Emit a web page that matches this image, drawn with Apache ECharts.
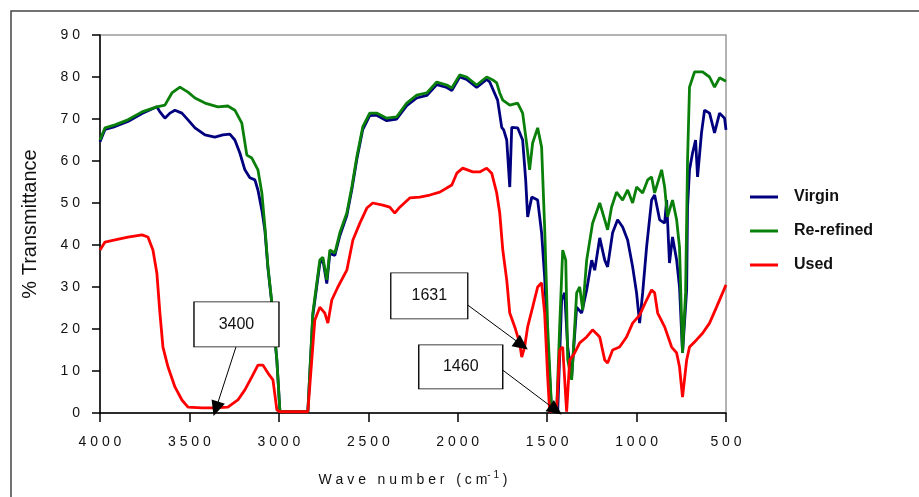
<!DOCTYPE html>
<html>
<head>
<meta charset="utf-8">
<title>FTIR spectra</title>
<script src="https://cdn.jsdelivr.net/npm/echarts@6/dist/echarts.min.js"></script>
<style>
  html, body { margin: 0; padding: 0; background: #fff; }
  #chart { width: 919px; height: 497px; }
</style>
</head>
<body>
<div id="chart"></div>
<script>
// series names, in legend order
var seriesNames = ['Virgin', 'Re-refined', 'Used'];

// [wave number (cm-1), % transmittance]
var virgin = [
    [4000, 64.6], [3972, 67.5], [3916, 68.2], [3844, 69.4], [3765, 71.3], [3682, 72.9],
    [3665, 71.7], [3637, 70.2], [3609, 71.4], [3581, 72.1], [3542, 71.4], [3508, 69.8],
    [3469, 67.9], [3413, 66.2], [3358, 65.7], [3313, 66.2], [3274, 66.4], [3246, 65],
    [3218, 61.9], [3190, 57.9], [3162, 56], [3134, 55.5], [3117, 53.1], [3095, 48.3],
    [3078, 43.5], [3061, 34.5], [3039, 26], [3011, 12.4], [2994, 0.3], [2838, 0.3],
    [2810, 23.2], [2771, 35.6], [2754, 36.5], [2732, 30.8], [2715, 38], [2687, 37.5],
    [2659, 42.2], [2620, 47], [2592, 53.2], [2564, 60.4], [2531, 67.5], [2492, 70.8],
    [2453, 70.9], [2397, 69.6], [2341, 70], [2285, 73.2], [2229, 75], [2173, 75.6],
    [2117, 78.2], [2061, 77.5], [2033, 76.8], [1989, 80], [1950, 79.4], [1894, 77.5],
    [1838, 79.4], [1821, 78.8], [1777, 74.5], [1754, 68], [1743, 67.4], [1726, 65],
    [1709, 53.8], [1698, 68], [1665, 67.9], [1637, 65], [1620, 55.5], [1609, 46.7],
    [1586, 51.4], [1553, 50.7], [1531, 42.9], [1514, 32.4], [1497, 16.7], [1475, 0.7],
    [1441, 0.3], [1419, 26.9], [1402, 28.6], [1385, 15.7], [1363, 8.6], [1335, 25.2],
    [1307, 23.8], [1279, 29.3], [1251, 36.4], [1234, 34], [1206, 41.7], [1178, 36.4],
    [1162, 34.8], [1134, 42.9], [1106, 46], [1078, 44.3], [1050, 41.2], [1022, 34.8],
    [1000, 28.6], [983, 21.4], [966, 28.6], [944, 39.5], [916, 50.7], [899, 51.9],
    [871, 46], [843, 45.2], [832, 50.7], [816, 35.7], [799, 41.9], [776, 36.4],
    [760, 30], [743, 14.3], [720, 29.3], [715, 49], [704, 57.9], [687, 61.9],
    [670, 65], [659, 56.2], [637, 66.7], [620, 72.1], [592, 71.4], [564, 66.7],
    [536, 71.4], [508, 70.2], [500, 67.4]
];

var rerefined = [
    [4000, 65], [3972, 67.9], [3916, 68.6], [3844, 69.8], [3765, 71.7], [3682, 72.9],
    [3637, 73.3], [3598, 76.2], [3553, 77.6], [3508, 76.4], [3469, 75], [3413, 73.8],
    [3341, 72.9], [3285, 73.1], [3246, 72.1], [3207, 69], [3179, 61.4], [3151, 60.7],
    [3117, 57.9], [3095, 52.4], [3078, 44.3], [3061, 34.8], [3039, 26.2], [3011, 12.6],
    [2994, 0.3], [2838, 0.3], [2810, 23.8], [2771, 36.4], [2754, 37.1], [2732, 31.7],
    [2715, 38.8], [2687, 38.1], [2659, 42.9], [2620, 47.6], [2592, 53.8], [2564, 61],
    [2531, 68.1], [2492, 71.4], [2453, 71.4], [2397, 70.2], [2341, 70.5], [2285, 73.8],
    [2229, 75.7], [2173, 76.2], [2117, 78.8], [2061, 78.1], [2033, 77.4], [1989, 80.5],
    [1950, 80], [1894, 78.1], [1838, 80], [1804, 79.3], [1782, 78.6], [1765, 76.2],
    [1748, 74.5], [1709, 73.3], [1665, 73.8], [1637, 71.4], [1615, 64.3], [1598, 57.9],
    [1581, 64.3], [1553, 67.9], [1531, 63.3], [1514, 44.3], [1497, 20.5], [1475, 0.7],
    [1447, 0.3], [1430, 20.5], [1413, 38.8], [1396, 36.4], [1385, 12.6], [1363, 7.9],
    [1335, 28.6], [1318, 30], [1301, 24.5], [1279, 36.4], [1246, 45.2], [1206, 50],
    [1178, 46], [1162, 43.6], [1140, 49], [1112, 52.6], [1078, 50.7], [1050, 53.1],
    [1022, 50], [1000, 53.8], [966, 52.4], [938, 55.5], [916, 56.2], [899, 52.4],
    [860, 57.9], [843, 53.8], [827, 46.7], [799, 50.7], [776, 46], [760, 39.5],
    [743, 14.3], [726, 28.6], [715, 60.2], [704, 77.6], [676, 81.2], [631, 81.2],
    [592, 80], [564, 77.6], [536, 79.8], [500, 79]
];

var used = [
    [4000, 38.8], [3972, 40.7], [3916, 41.2], [3844, 41.9], [3765, 42.4], [3732, 41.9],
    [3704, 38.8], [3682, 33.3], [3665, 23.8], [3648, 15.7], [3620, 11], [3581, 6.2],
    [3542, 3.1], [3508, 1.4], [3430, 1.2], [3358, 1.2], [3285, 1.4], [3229, 3.1],
    [3190, 5.5], [3151, 8.6], [3117, 11.4], [3089, 11.4], [3061, 9.5], [3033, 7.9],
    [3011, 0.7], [2994, 0.3], [2838, 0.3], [2816, 12.6], [2799, 22.1], [2771, 25.2],
    [2743, 23.8], [2726, 21.4], [2704, 26.9], [2670, 30], [2620, 34], [2586, 41.2],
    [2547, 45.2], [2508, 48.8], [2475, 50], [2419, 49.5], [2380, 49], [2352, 47.6],
    [2324, 49], [2268, 51.2], [2212, 51.4], [2156, 51.9], [2100, 52.6], [2033, 54.3],
    [2005, 57.1], [1972, 58.3], [1916, 57.4], [1877, 57.4], [1838, 58.3], [1810, 57.1],
    [1782, 52.4], [1765, 47.6], [1748, 38.8], [1726, 31.7], [1709, 23.8], [1681, 20.5],
    [1654, 16.7], [1642, 13.3], [1626, 15.7], [1609, 20.5], [1581, 25.2], [1553, 30],
    [1531, 31], [1514, 23.8], [1497, 8.6], [1486, 0.3], [1447, 0.7], [1430, 15],
    [1413, 15.7], [1391, 0.3], [1374, 12.6], [1346, 14.3], [1318, 16.7], [1279, 18.1],
    [1246, 19.8], [1206, 18.1], [1178, 12.6], [1162, 11.9], [1134, 15], [1095, 15.7],
    [1056, 18.1], [1022, 21.4], [983, 23.3], [944, 26.9], [916, 29.3], [899, 28.6],
    [882, 23.8], [843, 20.5], [804, 15.7], [776, 14.3], [760, 11], [743, 3.8],
    [720, 12.6], [704, 15.7], [665, 17.4], [631, 19], [592, 21.4], [553, 25.2],
    [519, 28.6], [500, 30.5]
];

// peak call-outs: label, box centre, where the leader starts, arrow tip (data coords)
var calloutLabels = ['3400', '1631', '1460'];
var calloutBoxes = [[3237, 21.1], [2159, 27.9], [1983, 11]];
var calloutFrom = [[3240, 15.7], [1944, 25.7], [1748, 10.2]];
var calloutTips = [[3352, 1.0], [1642, 16.2], [1452, 0.7]];

var FONT = 'Arial, "Liberation Sans", sans-serif';
var colors = ['#00007f', '#0a800a', '#ff0000'];
var boxSizes = [[85, 45], [77, 46], [84, 44]];

var spaced = function (v) {
    return String(v).split('').join(' ');
};

var chart = echarts.init(document.getElementById('chart'), null, {renderer: 'canvas'});

var leaders = calloutLabels.map(function (l, i) {
    return [
        {coord: calloutFrom[i], symbol: 'none'},
        {coord: calloutTips[i], symbol: 'triangle', symbolSize: [14, 15]}
    ];
});
var boxes = calloutLabels.map(function (l, i) {
    return {coord: calloutBoxes[i], value: l, symbolSize: boxSizes[i]};
});

var lineSeries = function (name, data, color) {
    return {
        name: name, type: 'line', data: data, showSymbol: false, symbol: 'none',
        lineStyle: {color: color, width: 2.8}, itemStyle: {color: color},
        animation: false, silent: true
    };
};

var series = [
    lineSeries(seriesNames[0], virgin, colors[0]),
    lineSeries(seriesNames[1], rerefined, colors[1]),
    lineSeries(seriesNames[2], used, colors[2])
];
series[2].markLine = {
    silent: true, animation: false, symbol: ['none', 'triangle'],
    lineStyle: {color: '#000', width: 1, type: 'solid'},
    itemStyle: {color: '#000'},
    label: {show: false},
    emphasis: {disabled: true},
    data: leaders
};
series[2].markPoint = {
    silent: true, animation: false, symbol: 'rect',
    itemStyle: {color: '#fff', borderColor: '#000', borderWidth: 1},
    label: {
        show: true, position: 'inside', color: '#111', fontSize: 16, fontFamily: FONT,
        formatter: function (p) { return p.value; }
    },
    data: boxes
};

var option = {
    backgroundColor: '#fff',
    animation: false,
    grid: {left: 100, right: 193, top: 35, bottom: 84, show: true, borderColor: '#9a9a9a', borderWidth: 1.5},
    legend: {
        orient: 'vertical', left: 745, top: 182, itemWidth: 28, itemHeight: 3, itemGap: 14,
        icon: 'rect', selectedMode: false,
        textStyle: {fontFamily: FONT, fontSize: 16, fontWeight: 'bold', color: '#111', lineHeight: 20, padding: [0, 0, 0, 11]},
        data: seriesNames
    },
    xAxis: {
        type: 'value', inverse: true, min: 500, max: 4000, interval: 500,
        name: 'W a v e   n u m b e r   ( c m{sup|- 1} )',
        nameLocation: 'middle', nameGap: 57,
        nameTextStyle: {
            fontFamily: FONT, fontSize: 14, color: '#111',
            rich: {sup: {fontFamily: FONT, fontSize: 10, color: '#111', padding: [0, 0, 10, 0]}}
        },
        axisLine: {show: true, onZero: false, lineStyle: {color: '#000', width: 1.5}},
        axisTick: {show: true, length: 9, lineStyle: {color: '#000', width: 1.5}},
        axisLabel: {margin: 22, fontFamily: FONT, fontSize: 14, color: '#111', formatter: spaced},
        splitLine: {show: false}
    },
    yAxis: {
        type: 'value', min: 0, max: 90, interval: 10,
        name: '% Transmittance', nameLocation: 'middle', nameGap: 60,
        nameTextStyle: {fontFamily: FONT, fontSize: 20, color: '#111'},
        axisLine: {show: true, lineStyle: {color: '#000', width: 1.5}},
        axisTick: {show: true, length: 8, lineStyle: {color: '#000', width: 1.5}},
        axisLabel: {margin: 20, fontFamily: FONT, fontSize: 14, color: '#111', formatter: spaced},
        splitLine: {show: false}
    },
    // the outer frame of the scanned figure
    graphic: [{
        type: 'rect', silent: true, z: -1,
        shape: {x: 11, y: 11, width: 930, height: 520},
        style: {fill: 'none', stroke: '#444', lineWidth: 1.5}
    }],
    series: series
};

chart.setOption(option);
</script>
</body>
</html>
